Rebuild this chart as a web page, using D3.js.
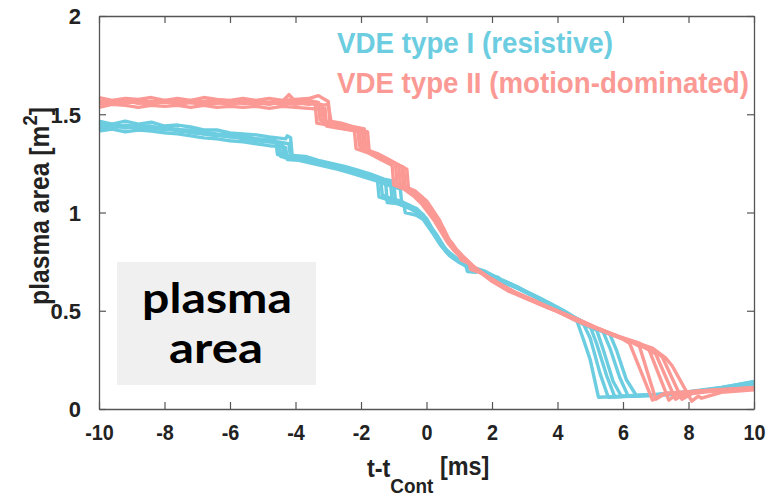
<!DOCTYPE html>
<html>
<head>
<meta charset="utf-8">
<script src="https://cdn.jsdelivr.net/npm/d3@7"></script>
<style>
  html, body { margin: 0; padding: 0; background: #fff; }
  svg { display: block; }
  .narrow { font-family: "Liberation Sans", Arial, sans-serif; font-weight: bold; }
</style>
</head>
<body>
<div id="chart"></div>
<script>
// x ticks / y ticks
const xTicks = [-10, -8, -6, -4, -2, 0, 2, 4, 6, 8, 10]
const yTicks = [0, 0.5, 1, 1.5, 2]
const yTickLabels = ["0", "0.5", "1", "1.5", "2"]

// VDE type I (resistive) shots: [t - tCont (ms), plasma area (m^2)]
const typeI1 = [[-10,1.44],[-9.6,1.45],[-9.2,1.435],[-8.8,1.445],[-8.4,1.43],[-8,1.435],[-7.6,1.42],[-7.2,1.415],[-6.8,1.41],[-6.4,1.40],[-6,1.395],[-5.6,1.39],[-5.2,1.375],[-4.8,1.37],[-4.6,1.365],[-4.55,1.295],[-4.2,1.285],[-3.8,1.275],[-3.4,1.26],[-3,1.245],[-2.6,1.225],[-2.2,1.21],[-1.8,1.19],[-1.5,1.17],[-1.45,1.08],[-1.1,1.06],[-0.8,1.04],[-0.5,1.02],[-0.2,0.99],[0,0.94],[0.3,0.87],[0.6,0.80],[0.9,0.76],[1.2,0.73],[1.25,0.70],[1.5,0.695],[1.55,0.715],[1.8,0.70],[2.2,0.665],[2.6,0.635],[3,0.60],[3.4,0.565],[3.8,0.53],[4.2,0.49],[4.6,0.445],[4.8,0.35],[5.0,0.25],[5.25,0.06],[6,0.065],[7,0.072],[8,0.085],[9,0.105],[10,0.135]]
const typeI2 = [[-10,1.425],[-9.6,1.435],[-9.2,1.44],[-8.8,1.425],[-8.4,1.435],[-8,1.42],[-7.6,1.425],[-7.2,1.405],[-6.8,1.40],[-6.4,1.395],[-6,1.385],[-5.6,1.38],[-5.2,1.37],[-4.8,1.36],[-4.4,1.355],[-4.35,1.28],[-4,1.275],[-3.6,1.27],[-3.2,1.25],[-2.8,1.235],[-2.4,1.215],[-2,1.20],[-1.6,1.18],[-1.25,1.16],[-1.2,1.05],[-0.9,1.045],[-0.6,1.03],[-0.3,1.005],[-0.1,0.97],[0.1,0.92],[0.4,0.84],[0.7,0.78],[1,0.745],[1.4,0.71],[1.8,0.685],[2.2,0.67],[2.25,0.645],[2.6,0.63],[3,0.595],[3.5,0.555],[3.55,0.535],[3.9,0.52],[4.3,0.48],[4.8,0.43],[5.0,0.36],[5.3,0.18],[5.55,0.06],[6.5,0.068],[7.5,0.078],[8.5,0.095],[9.5,0.118],[10,0.13]]
const typeI3 = [[-10,1.465],[-9.6,1.45],[-9.2,1.465],[-8.8,1.45],[-8.4,1.46],[-8,1.44],[-7.6,1.445],[-7.2,1.435],[-6.8,1.42],[-6.4,1.42],[-6,1.405],[-5.6,1.40],[-5.2,1.395],[-4.8,1.385],[-4.3,1.375],[-4.25,1.39],[-4.15,1.38],[-4.1,1.29],[-3.7,1.285],[-3.3,1.265],[-2.9,1.25],[-2.5,1.235],[-2.1,1.215],[-1.7,1.195],[-1.3,1.17],[-1.0,1.16],[-0.95,1.06],[-0.6,1.04],[-0.3,1.02],[0,0.97],[0.2,0.91],[0.5,0.83],[0.8,0.775],[1.1,0.74],[1.5,0.705],[1.9,0.675],[2.3,0.65],[2.7,0.62],[3.1,0.59],[3.5,0.56],[3.9,0.52],[4.3,0.485],[4.7,0.45],[5.0,0.42],[5.2,0.33],[5.5,0.17],[5.75,0.062],[6.5,0.066],[7.5,0.074],[8.5,0.09],[9.5,0.115],[10,0.128]]
const typeI4 = [[-10,1.435],[-9.6,1.43],[-9.2,1.445],[-8.8,1.435],[-8.4,1.425],[-8,1.43],[-7.6,1.415],[-7.2,1.41],[-6.8,1.40],[-6.4,1.39],[-6,1.39],[-5.6,1.375],[-5.2,1.365],[-4.8,1.36],[-4.5,1.355],[-4.45,1.285],[-4.1,1.28],[-3.7,1.265],[-3.3,1.255],[-2.9,1.24],[-2.5,1.22],[-2.1,1.205],[-1.7,1.185],[-1.4,1.17],[-1.35,1.09],[-1.0,1.065],[-0.7,1.05],[-0.65,1.0],[-0.3,0.985],[0,0.955],[0.3,0.89],[0.6,0.81],[0.9,0.77],[1.2,0.735],[1.6,0.705],[2,0.675],[2.4,0.64],[2.8,0.615],[3.2,0.58],[3.6,0.545],[4,0.505],[4.4,0.47],[4.8,0.43],[5.2,0.40],[5.4,0.30],[5.7,0.14],[5.95,0.065],[7,0.07],[8,0.082],[9,0.1],[10,0.125]]
const typeI5 = [[-10,1.45],[-9.6,1.445],[-9.2,1.43],[-8.8,1.44],[-8.4,1.44],[-8,1.425],[-7.6,1.42],[-7.2,1.42],[-6.8,1.40],[-6.4,1.395],[-6,1.385],[-5.6,1.38],[-5.2,1.37],[-4.8,1.365],[-4.2,1.35],[-4.15,1.275],[-3.8,1.27],[-3.4,1.255],[-3,1.24],[-2.6,1.23],[-2.2,1.20],[-1.8,1.185],[-1.4,1.165],[-1.1,1.15],[-1.05,1.07],[-0.75,1.055],[-0.5,1.035],[-0.2,1.0],[0.1,0.93],[0.4,0.85],[0.7,0.79],[1,0.75],[1.4,0.715],[1.8,0.69],[2.2,0.66],[2.6,0.635],[3,0.60],[3.4,0.57],[3.8,0.535],[4.2,0.50],[4.6,0.46],[5,0.425],[5.4,0.39],[5.6,0.31],[5.9,0.16],[6.15,0.068],[7,0.072],[8,0.086],[9,0.108],[10,0.14]]
const typeI6 = [[-10,1.415],[-9.6,1.425],[-9.2,1.41],[-8.8,1.42],[-8.4,1.415],[-8,1.405],[-7.6,1.40],[-7.2,1.39],[-6.8,1.38],[-6.4,1.375],[-6,1.365],[-5.6,1.36],[-5.2,1.35],[-4.8,1.34],[-4.4,1.335],[-4.3,1.33],[-4.25,1.27],[-3.9,1.265],[-3.5,1.25],[-3.1,1.235],[-2.7,1.22],[-2.3,1.20],[-1.9,1.18],[-1.5,1.16],[-1.2,1.14],[-0.8,1.12],[-0.75,1.04],[-0.4,1.02],[-0.1,0.99],[0.2,0.90],[0.5,0.82],[0.8,0.77],[1.2,0.73],[1.6,0.70],[2,0.67],[2.4,0.645],[2.8,0.62],[3.2,0.585],[3.6,0.55],[4,0.515],[4.4,0.475],[4.8,0.44],[5.2,0.41],[5.6,0.38],[5.8,0.30],[6.1,0.15],[6.4,0.07],[7,0.074],[8,0.088],[9,0.11],[10,0.138]]

// VDE type II (motion-dominated) shots
const typeII1 = [[-10,1.56],[-9.6,1.565],[-9.2,1.555],[-8.8,1.57],[-8.4,1.56],[-8,1.565],[-7.6,1.555],[-7.2,1.565],[-6.8,1.56],[-6.4,1.555],[-6,1.565],[-5.6,1.555],[-5.2,1.56],[-4.8,1.55],[-4.4,1.565],[-4.2,1.60],[-4.0,1.565],[-3.6,1.555],[-3.2,1.55],[-3.15,1.46],[-2.8,1.45],[-2.4,1.435],[-2.05,1.42],[-2.0,1.33],[-1.6,1.30],[-1.2,1.27],[-0.85,1.24],[-0.8,1.14],[-0.5,1.12],[-0.2,1.08],[0,1.04],[0.2,0.99],[0.4,0.95],[0.6,0.88],[0.8,0.84],[1.0,0.79],[1.2,0.76],[1.6,0.70],[2,0.65],[2.5,0.60],[3,0.565],[3.5,0.53],[4,0.495],[4.5,0.455],[5,0.42],[5.5,0.39],[6,0.355],[6.2,0.335],[6.9,0.045],[7.2,0.075],[8,0.085],[9,0.095],[10,0.105]]
const typeII2 = [[-10,1.585],[-9.6,1.57],[-9.2,1.58],[-8.8,1.575],[-8.4,1.585],[-8,1.57],[-7.6,1.58],[-7.2,1.57],[-6.8,1.585],[-6.4,1.575],[-6,1.57],[-5.6,1.58],[-5.2,1.57],[-4.8,1.58],[-4.4,1.57],[-4,1.575],[-3.6,1.58],[-3.3,1.595],[-3.0,1.565],[-2.95,1.465],[-2.6,1.455],[-2.2,1.435],[-1.9,1.425],[-1.85,1.32],[-1.5,1.30],[-1.1,1.265],[-0.75,1.23],[-0.7,1.13],[-0.4,1.11],[-0.1,1.07],[0.1,1.02],[0.3,0.97],[0.5,0.92],[0.7,0.85],[0.9,0.81],[1.1,0.775],[1.4,0.73],[1.8,0.68],[2.2,0.64],[2.7,0.595],[3.2,0.56],[3.7,0.52],[4.2,0.485],[4.7,0.45],[5.2,0.41],[5.7,0.375],[6.2,0.345],[6.5,0.32],[7.0,0.05],[7.3,0.08],[8,0.088],[9,0.098],[10,0.11]]
const typeII3 = [[-10,1.555],[-9.6,1.56],[-9.2,1.57],[-8.8,1.555],[-8.4,1.565],[-8,1.56],[-7.6,1.57],[-7.2,1.56],[-6.8,1.555],[-6.4,1.565],[-6,1.56],[-5.6,1.56],[-5.2,1.565],[-4.8,1.555],[-4.4,1.56],[-4,1.55],[-3.6,1.56],[-3.2,1.545],[-3.0,1.55],[-2.9,1.445],[-2.5,1.44],[-2.1,1.425],[-1.8,1.41],[-1.75,1.31],[-1.4,1.29],[-1.0,1.255],[-0.6,1.22],[-0.55,1.12],[-0.3,1.10],[0,1.06],[0.2,1.01],[0.4,0.96],[0.55,0.90],[0.75,0.83],[0.95,0.80],[1.05,0.76],[1.3,0.74],[1.35,0.71],[1.7,0.69],[2.1,0.65],[2.6,0.60],[3.1,0.565],[3.6,0.525],[4.1,0.49],[4.6,0.455],[5.1,0.42],[5.6,0.385],[6.1,0.355],[6.5,0.33],[6.8,0.30],[7.4,0.045],[7.6,0.07],[8.2,0.09],[9,0.1],[10,0.1]]
const typeII4 = [[-10,1.565],[-9.6,1.56],[-9.2,1.56],[-8.8,1.565],[-8.4,1.555],[-8,1.57],[-7.6,1.56],[-7.2,1.57],[-6.8,1.565],[-6.4,1.57],[-6,1.56],[-5.6,1.57],[-5.2,1.565],[-4.8,1.56],[-4.4,1.57],[-4,1.565],[-3.6,1.57],[-3.3,1.56],[-3.25,1.47],[-2.9,1.455],[-2.5,1.44],[-2.1,1.43],[-2.05,1.34],[-1.7,1.31],[-1.3,1.28],[-0.95,1.25],[-0.9,1.15],[-0.6,1.13],[-0.3,1.09],[-0.1,1.05],[0.1,1.0],[0.3,0.96],[0.5,0.90],[0.7,0.85],[0.9,0.815],[1.1,0.78],[1.5,0.715],[1.9,0.67],[2.4,0.62],[2.9,0.575],[3.4,0.54],[3.9,0.505],[4.4,0.47],[4.9,0.43],[5.4,0.40],[5.9,0.365],[6.4,0.335],[6.8,0.30],[7.0,0.28],[7.6,0.05],[7.9,0.075],[8.5,0.09],[9.2,0.1],[10,0.108]]
const typeII5 = [[-10,1.535],[-9.6,1.55],[-9.2,1.545],[-8.8,1.535],[-8.4,1.545],[-8,1.54],[-7.6,1.545],[-7.2,1.535],[-6.8,1.545],[-6.4,1.535],[-6,1.54],[-5.6,1.535],[-5.2,1.54],[-4.8,1.53],[-4.4,1.54],[-4,1.535],[-3.6,1.53],[-3.2,1.525],[-3.1,1.53],[-3.05,1.44],[-2.7,1.43],[-2.3,1.42],[-1.95,1.405],[-1.9,1.32],[-1.5,1.295],[-1.1,1.26],[-0.7,1.23],[-0.65,1.13],[-0.35,1.11],[-0.05,1.065],[0.15,1.015],[0.35,0.97],[0.55,0.91],[0.75,0.84],[0.95,0.80],[1.15,0.765],[1.55,0.71],[1.95,0.665],[2.45,0.615],[2.95,0.57],[3.45,0.535],[3.95,0.50],[4.45,0.465],[4.95,0.43],[5.45,0.395],[5.95,0.365],[6.5,0.335],[7.0,0.29],[7.2,0.265],[7.8,0.05],[8.1,0.078],[8.7,0.09],[9.4,0.098],[10,0.102]]
const typeII6 = [[-10,1.56],[-9.6,1.555],[-9.2,1.565],[-8.8,1.56],[-8.4,1.55],[-8,1.565],[-7.6,1.55],[-7.2,1.56],[-6.8,1.55],[-6.4,1.56],[-6,1.55],[-5.6,1.56],[-5.2,1.55],[-4.8,1.56],[-4.4,1.55],[-4,1.56],[-3.6,1.55],[-3.4,1.555],[-3.35,1.455],[-3,1.445],[-2.6,1.43],[-2.2,1.415],[-2.15,1.325],[-1.8,1.305],[-1.4,1.27],[-1.05,1.24],[-1.0,1.14],[-0.7,1.12],[-0.4,1.085],[-0.15,1.045],[0.05,1.0],[0.25,0.955],[0.45,0.90],[0.65,0.845],[0.85,0.805],[1.05,0.77],[1.45,0.72],[1.85,0.675],[2.35,0.625],[2.85,0.58],[3.35,0.545],[3.85,0.51],[4.35,0.475],[4.85,0.44],[5.35,0.40],[5.85,0.37],[6.35,0.34],[6.9,0.31],[7.3,0.26],[7.5,0.22],[8.1,0.04],[8.3,0.065],[8.4,0.055],[9,0.085],[10,0.098]]

const typeICurves = [typeI1, typeI2, typeI3, typeI4, typeI5, typeI6]
const typeIICurves = [typeII1, typeII2, typeII3, typeII4, typeII5, typeII6]

const width = 767
const height = 498
const margin = { top: 16, right: 13, bottom: 89, left: 99 }
const cyan = "#6ccde1"
const salmon = "#fb9995"
const axisColor = "#555"

const svg = d3.select("#chart")
  .append("svg")
  .attr("width", width)
  .attr("height", height)

const x = d3.scaleLinear()
  .domain([-10, 10])
  .range([margin.left, width - margin.right])

const y = d3.scaleLinear()
  .domain([0, 2])
  .range([height - margin.bottom, margin.top])

const line = d3.line()
  .x(d => x(d[0]))
  .y(d => y(d[1]))

// curves
svg.append("g")
  .selectAll("path")
  .data(typeICurves)
  .join("path")
  .attr("fill", "none")
  .attr("stroke", cyan)
  .attr("stroke-width", 3.4)
  .attr("stroke-linejoin", "round")
  .attr("d", line)

svg.append("g")
  .selectAll("path")
  .data(typeIICurves)
  .join("path")
  .attr("fill", "none")
  .attr("stroke", salmon)
  .attr("stroke-width", 3.4)
  .attr("stroke-linejoin", "round")
  .attr("d", line)

// Axes (box with inward ticks)
const tickLen = 7
const bottomAxis = svg.append("g")
  .attr("transform", `translate(0,${y(0)})`)
  .call(d3.axisBottom(x).tickValues(xTicks).tickSizeInner(-tickLen).tickSizeOuter(0).tickPadding(15)
    .tickFormat(d => String(d)))
const topAxis = svg.append("g")
  .attr("transform", `translate(0,${y(2)})`)
  .call(d3.axisTop(x).tickValues(xTicks).tickSizeInner(-tickLen).tickSizeOuter(0).tickFormat(""))
const leftAxis = svg.append("g")
  .attr("transform", `translate(${x(-10)},0)`)
  .call(d3.axisLeft(y).tickValues(yTicks).tickSizeInner(-tickLen).tickSizeOuter(0).tickPadding(18)
    .tickFormat((d, i) => yTickLabels[i]))
const rightAxis = svg.append("g")
  .attr("transform", `translate(${x(10)},0)`)
  .call(d3.axisRight(y).tickValues(yTicks).tickSizeInner(-tickLen).tickSizeOuter(0).tickFormat(""))

for (const g of [bottomAxis, topAxis, leftAxis, rightAxis]) {
  g.select(".domain").attr("stroke", axisColor).attr("stroke-width", 1.3)
  g.selectAll(".tick line").attr("stroke", axisColor).attr("stroke-width", 1.2)
  g.selectAll(".tick text")
    .attr("class", "narrow")
    .attr("fill", "#222")
    .style("font-size", "22px")
}
bottomAxis.selectAll(".tick text").attr("dy", "0.71em").attr("transform", "scale(0.9,1)")
leftAxis.selectAll(".tick text").attr("dy", "0.36em")

// Axis titles
svg.append("text")
  .attr("class", "narrow")
  .attr("transform", `translate(49,206) rotate(-90) scale(0.88,1)`)
  .attr("text-anchor", "middle")
  .attr("fill", "#222")
  .style("font-size", "28px")
  .call(t => {
    t.append("tspan").text("plasma area [m")
    t.append("tspan").attr("dy", -12).style("font-size", "21px").text("2")
    t.append("tspan").attr("dy", 12).text("]")
  })

svg.append("text")
  .attr("class", "narrow")
  .attr("transform", "translate(367,477) scale(0.9,1)")
  .attr("fill", "#222")
  .style("font-size", "26px")
  .call(t => {
    t.append("tspan").text("t-t")
    t.append("tspan").attr("dy", 16).style("font-size", "21px").text("Cont")
    t.append("tspan").attr("dy", -18).text(" [ms]")
  })

// Legend text
svg.append("text")
  .attr("class", "narrow")
  .attr("x", 337)
  .attr("y", 53)
  .attr("fill", cyan)
  .style("font-size", "29px")
  .attr("textLength", 276)
  .attr("lengthAdjust", "spacingAndGlyphs")
  .text("VDE type I (resistive)")

svg.append("text")
  .attr("class", "narrow")
  .attr("x", 337)
  .attr("y", 93)
  .attr("fill", salmon)
  .style("font-size", "29px")
  .attr("textLength", 412)
  .attr("lengthAdjust", "spacingAndGlyphs")
  .text("VDE type II (motion-dominated)")

// Annotation box
svg.append("rect")
  .attr("x", 117)
  .attr("y", 262)
  .attr("width", 199)
  .attr("height", 123)
  .attr("fill", "#f0f0f0")

svg.append("text")
  .attr("x", 142)
  .attr("y", 313)
  .attr("fill", "#000")
  .style("font-family", "Lato, 'Noto Sans', sans-serif")
  .style("font-weight", "bold")
  .style("font-size", "42px")
  .attr("textLength", 150)
  .attr("lengthAdjust", "spacingAndGlyphs")
  .text("plasma")

svg.append("text")
  .attr("x", 169)
  .attr("y", 363)
  .attr("fill", "#000")
  .style("font-family", "Lato, 'Noto Sans', sans-serif")
  .style("font-weight", "bold")
  .style("font-size", "42px")
  .attr("textLength", 94)
  .attr("lengthAdjust", "spacingAndGlyphs")
  .text("area")
</script>
</body>
</html>
